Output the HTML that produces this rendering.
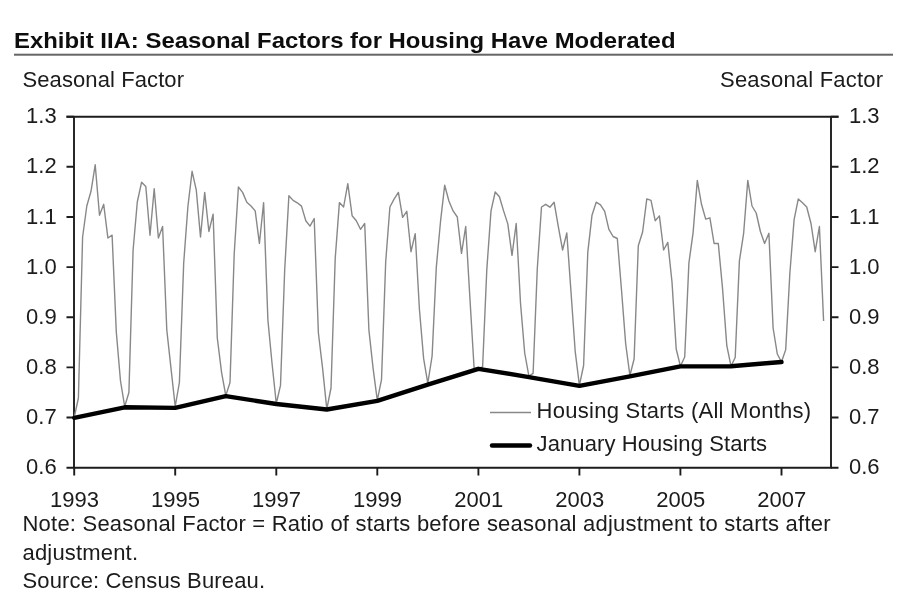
<!DOCTYPE html>
<html lang="en"><head><meta charset="utf-8"><title>Exhibit IIA: Seasonal Factors for Housing Have Moderated</title>
<style>
html,body{margin:0;padding:0;background:#fff;}
body{width:920px;height:599px;overflow:hidden;}
svg{display:block;}
text{font-family:"Liberation Sans",Arial,Helvetica,sans-serif;fill:#1a1a1a;}
.t{font-size:22.5px;font-weight:bold;fill:#111;}
.l{font-size:22px;}
</style></head><body>
<svg width="920" height="599" viewBox="0 0 920 599">
<rect width="920" height="599" fill="#fff"/>
<defs><filter id="soft" x="0" y="0" width="920" height="599" filterUnits="userSpaceOnUse"><feGaussianBlur stdDeviation="0.5"/></filter></defs>
<g filter="url(#soft)">
<text class="t" x="14" y="48" textLength="661.5" lengthAdjust="spacingAndGlyphs">Exhibit IIA: Seasonal Factors for Housing Have Moderated</text>
<rect x="14" y="53.7" width="879" height="2" fill="#666"/>
<text class="l" x="22.5" y="87" textLength="161.5" lengthAdjust="spacing">Seasonal Factor</text>
<text class="l" x="720" y="87" textLength="163" lengthAdjust="spacing">Seasonal Factor</text>
<g stroke="#1c1c1c" stroke-width="1.9" fill="none">
<path d="M74.0 116.7 V467.7 H831.0 V116.7"/>
<path d="M66.5 116.7 H838.5"/>
<path d="M66.5 467.7 H74.0 M831.0 467.7 H838.5 M66.5 417.5 H74.0 M831.0 417.5 H838.5 M66.5 367.4 H74.0 M831.0 367.4 H838.5 M66.5 317.3 H74.0 M831.0 317.3 H838.5 M66.5 267.1 H74.0 M831.0 267.1 H838.5 M66.5 217.0 H74.0 M831.0 217.0 H838.5 M66.5 166.8 H74.0 M831.0 166.8 H838.5 M66.5 116.7 H74.0 M831.0 116.7 H838.5 M74.2 467.7 V475.4 M175.2 467.7 V475.4 M276.3 467.7 V475.4 M377.3 467.7 V475.4 M478.4 467.7 V475.4 M579.4 467.7 V475.4 M680.4 467.7 V475.4 M781.5 467.7 V475.4"/>
</g>
<text class="l" x="56.7" y="474.3" text-anchor="end">0.6</text>
<text class="l" x="849" y="474.2">0.6</text>
<text class="l" x="56.7" y="424.1" text-anchor="end">0.7</text>
<text class="l" x="849" y="424.0">0.7</text>
<text class="l" x="56.7" y="374.0" text-anchor="end">0.8</text>
<text class="l" x="849" y="373.9">0.8</text>
<text class="l" x="56.7" y="323.9" text-anchor="end">0.9</text>
<text class="l" x="849" y="323.8">0.9</text>
<text class="l" x="56.7" y="273.7" text-anchor="end">1.0</text>
<text class="l" x="849" y="273.6">1.0</text>
<text class="l" x="56.7" y="223.6" text-anchor="end">1.1</text>
<text class="l" x="849" y="223.5">1.1</text>
<text class="l" x="56.7" y="173.4" text-anchor="end">1.2</text>
<text class="l" x="849" y="173.3">1.2</text>
<text class="l" x="56.7" y="123.3" text-anchor="end">1.3</text>
<text class="l" x="849" y="123.2">1.3</text>
<text class="l" x="74.5" y="506.5" text-anchor="middle">1993</text>
<text class="l" x="175.5" y="506.5" text-anchor="middle">1995</text>
<text class="l" x="276.6" y="506.5" text-anchor="middle">1997</text>
<text class="l" x="377.6" y="506.5" text-anchor="middle">1999</text>
<text class="l" x="478.7" y="506.5" text-anchor="middle">2001</text>
<text class="l" x="579.7" y="506.5" text-anchor="middle">2003</text>
<text class="l" x="680.7" y="506.5" text-anchor="middle">2005</text>
<text class="l" x="781.8" y="506.5" text-anchor="middle">2007</text>
<polyline points="74.2,417.5 78.4,398.0 82.6,237.0 86.8,206.0 91.0,191.3 95.2,164.8 99.5,215.2 103.7,204.3 107.9,238.0 112.1,235.2 116.3,332.0 120.5,381.0 124.7,406.5 128.9,392.5 133.1,250.0 137.3,202.0 141.6,182.2 145.8,186.5 150.0,235.2 154.2,188.7 158.4,238.0 162.6,226.5 166.8,330.0 171.0,368.4 175.2,406.5 179.4,382.5 183.7,263.0 187.9,206.5 192.1,171.3 196.3,190.2 200.5,237.0 204.7,192.4 208.9,231.5 213.1,214.1 217.3,338.0 221.6,372.6 225.8,395.6 230.0,382.5 234.2,254.0 238.4,187.0 242.6,192.4 246.8,202.2 251.0,206.0 255.2,210.9 259.4,243.5 263.6,202.6 267.9,320.0 272.1,364.0 276.3,403.5 280.5,385.4 284.7,269.8 288.9,195.7 293.1,200.4 297.3,202.8 301.5,206.1 305.8,220.7 310.0,226.1 314.2,218.5 318.4,333.0 322.6,368.4 326.8,409.2 331.0,388.0 335.2,258.7 339.4,202.6 343.6,207.0 347.8,183.7 352.1,215.7 356.3,220.7 360.5,229.3 364.7,223.5 368.9,330.0 373.1,368.4 377.3,400.3 381.5,379.7 385.7,261.7 389.9,207.0 394.2,198.9 398.4,192.4 402.6,217.4 406.8,211.3 411.0,251.7 415.2,233.7 419.4,309.0 423.6,358.4 427.8,383.3 432.1,356.0 436.3,267.4 440.5,221.7 444.7,185.2 448.9,201.0 453.1,210.9 457.3,217.0 461.5,253.3 465.7,226.5 469.9,298.0 474.1,368.0 478.4,368.4 482.6,367.0 486.8,269.6 491.0,210.9 495.2,192.0 499.4,196.7 503.6,210.9 507.8,223.9 512.0,255.4 516.2,223.5 520.5,303.0 524.7,353.0 528.9,376.2 533.1,373.3 537.3,268.5 541.5,207.0 545.7,204.3 549.9,207.2 554.1,202.2 558.4,227.2 562.6,250.0 566.8,233.0 571.0,292.0 575.2,351.3 579.4,385.4 583.6,365.5 587.8,252.2 592.0,215.2 596.2,202.2 600.5,204.8 604.7,211.3 608.9,229.3 613.1,236.5 617.3,238.5 621.5,290.0 625.7,344.0 629.9,375.5 634.1,359.0 638.3,245.7 642.6,232.0 646.8,198.9 651.0,200.4 655.2,220.7 659.4,215.9 663.6,250.0 667.8,242.4 672.0,282.0 676.2,349.0 680.4,366.2 684.7,357.0 688.9,263.0 693.1,232.6 697.3,180.4 701.5,204.3 705.7,219.1 709.9,217.8 714.1,243.5 718.3,243.5 722.5,288.0 726.8,345.7 731.0,366.2 735.2,357.5 739.4,260.9 743.6,233.7 747.8,180.4 752.0,206.0 756.2,213.0 760.4,231.5 764.6,243.5 768.9,233.3 773.1,328.0 777.3,354.0 781.5,362.0 785.7,349.6 789.9,272.8 794.1,219.6 798.3,198.9 802.5,202.8 806.7,207.0 811.0,223.5 815.2,251.7 819.4,226.5 823.6,321.0" fill="none" stroke="#888" stroke-width="1.4" stroke-linejoin="round"/>
<polyline points="74.2,417.8 124.7,407.3 175.2,407.9 225.8,396.1 276.3,404.0 326.8,409.5 377.3,400.8 427.8,384.7 478.4,368.8 528.9,377.1 579.4,385.8 629.9,376.3 680.4,366.4 731.0,366.2 781.5,362.0" fill="none" stroke="#000" stroke-width="4.4" stroke-linejoin="round" stroke-linecap="round"/>
<path d="M490 412.5 H531" stroke="#888" stroke-width="1.4"/>
<text class="l" x="536.6" y="418" textLength="274.5" lengthAdjust="spacing">Housing Starts (All Months)</text>
<path d="M492 445.5 H530" stroke="#000" stroke-width="4.4" stroke-linecap="round"/>
<text class="l" x="536.6" y="451.4" textLength="230.5" lengthAdjust="spacing">January Housing Starts</text>
<text class="l" x="22.5" y="530.7" textLength="808" lengthAdjust="spacing">Note: Seasonal Factor = Ratio of starts before seasonal adjustment to starts after</text>
<text class="l" x="22.5" y="559.8" textLength="115.5" lengthAdjust="spacing">adjustment.</text>
<text class="l" x="22.5" y="588.3" textLength="242.5" lengthAdjust="spacing">Source: Census Bureau.</text>
</g>
</svg>
</body></html>
